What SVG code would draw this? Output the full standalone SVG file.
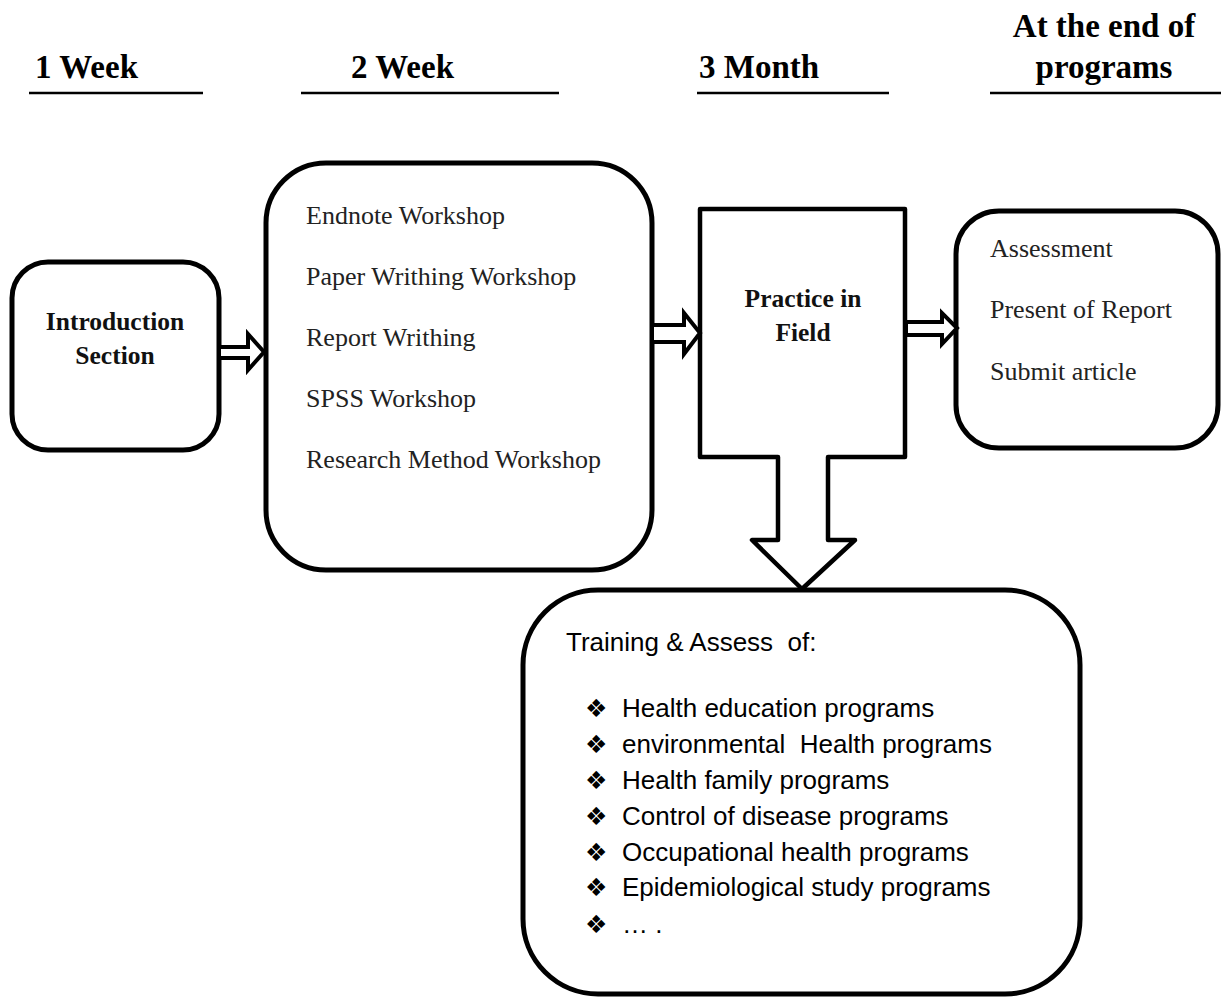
<svg xmlns="http://www.w3.org/2000/svg" width="1221" height="998" viewBox="0 0 1221 998">
<style>
.hdr{font-family:"Liberation Serif","Times New Roman",serif;font-weight:bold;font-size:33px;fill:#000}
.ul{stroke:#000;stroke-width:2.5}
.box{fill:#fff;stroke:#000;stroke-width:5}
.garb{font-family:"Liberation Serif","Times New Roman",serif;font-weight:bold;font-size:25.5px;fill:#111;text-anchor:middle}
.gar{font-family:"Liberation Serif","Times New Roman",serif;font-size:26px;fill:#222}
.cal{font-family:"Liberation Sans",Arial,sans-serif;font-size:26px;fill:#000;white-space:pre}
.bul{font-family:"DejaVu Sans",sans-serif;font-size:25px;fill:#000}
.arr{fill:#fff;stroke:#000;stroke-width:4;stroke-linejoin:miter}
</style>
<g id="headers">
<text class="hdr" x="35" y="78">1 Week</text>
<line class="ul" x1="29" y1="93" x2="203" y2="93"/>
<text class="hdr" x="351" y="78">2 Week</text>
<line class="ul" x1="301" y1="93" x2="559" y2="93"/>
<text class="hdr" x="699" y="78">3 Month</text>
<line class="ul" x1="697" y1="93" x2="889" y2="93"/>
<text class="hdr" x="1104" y="37" text-anchor="middle">At the end of</text>
<text class="hdr" x="1104" y="78" text-anchor="middle">programs</text>
<line class="ul" x1="990" y1="93" x2="1221" y2="93"/>
</g>
<g id="node-intro">
<rect class="box" x="12" y="262" width="207" height="188" rx="36" ry="36"/>
<text class="garb" x="115" y="330">Introduction</text>
<text class="garb" x="115" y="364">Section</text>
</g>
<g id="node-workshops">
<rect class="box" x="266" y="163" width="386" height="407" rx="60" ry="60"/>
<text class="gar" x="306" y="224">Endnote Workshop</text>
<text class="gar" x="306" y="285">Paper Writhing Workshop</text>
<text class="gar" x="306" y="346">Report Writhing</text>
<text class="gar" x="306" y="407">SPSS Workshop</text>
<text class="gar" x="306" y="468">Research Method Workshop</text>
</g>
<g id="node-practice">
<path d="M700,209 H905 V457 H828 V540 H855 L802,589 L752,540 H778 V457 H700 Z" fill="#fff" stroke="#000" stroke-width="4.5" stroke-linejoin="round"/>
<text class="garb" x="803" y="307">Practice in</text>
<text class="garb" x="803" y="341">Field</text>
</g>
<g id="node-final">
<rect class="box" x="956" y="211" width="262" height="237" rx="43" ry="43"/>
<text class="gar" x="990" y="257">Assessment</text>
<text class="gar" x="990" y="318">Present of Report</text>
<text class="gar" x="990" y="380">Submit article</text>
</g>
<g id="node-training">
<rect class="box" x="523" y="590" width="557" height="404" rx="75" ry="75"/>
<text class="cal" x="566" y="651">Training &amp; Assess  of:</text>
<text class="bul" x="585" y="717">❖</text><text class="cal" x="622" y="717">Health education programs</text>
<text class="bul" x="585" y="753">❖</text><text class="cal" x="622" y="753">environmental  Health programs</text>
<text class="bul" x="585" y="789">❖</text><text class="cal" x="622" y="789">Health family programs</text>
<text class="bul" x="585" y="825">❖</text><text class="cal" x="622" y="825">Control of disease programs</text>
<text class="bul" x="585" y="861">❖</text><text class="cal" x="622" y="861">Occupational health programs</text>
<text class="bul" x="585" y="896">❖</text><text class="cal" x="622" y="896">Epidemiological study programs</text>
<text class="bul" x="585" y="933">❖</text><text class="cal" x="622" y="933">… .</text>
</g>
<g id="connectors">
<path class="arr" d="M219,347 H248 V334 L264,352 L248,370 V358 H219 Z"/>
<path class="arr" d="M652,325 H684 V313 L700,333 L684,354 V342 H652 Z"/>
<path class="arr" d="M906,322 H942 V313 L957,328 L942,344 V335 H906 Z"/>
</g>
</svg>
